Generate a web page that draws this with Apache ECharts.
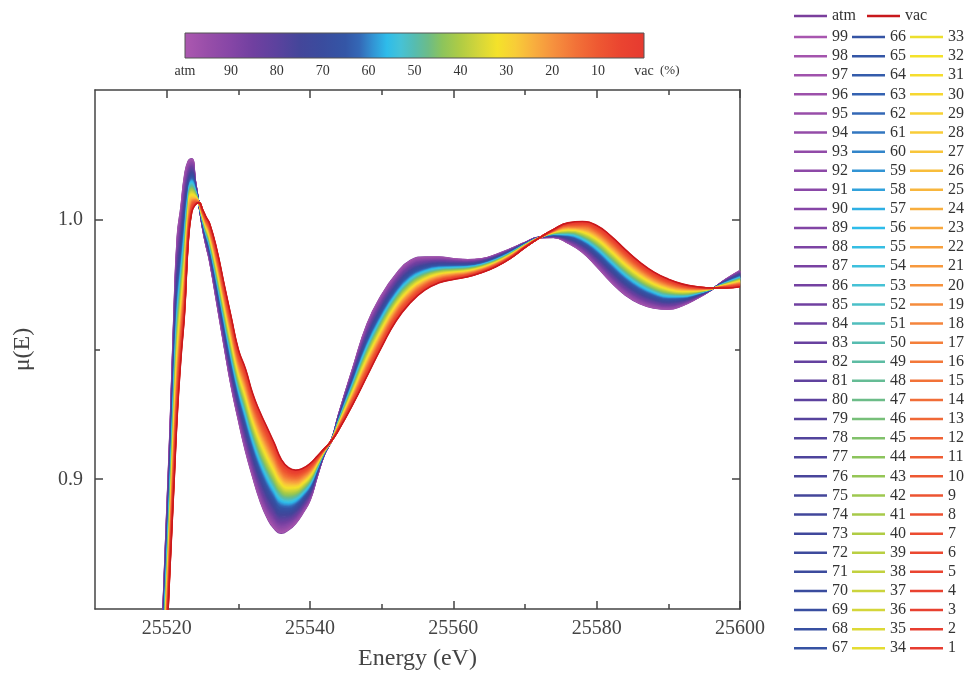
<!DOCTYPE html>
<html>
<head>
<meta charset="utf-8">
<script src="https://cdn.jsdelivr.net/npm/echarts@6/dist/echarts.min.js"></script>
<style>
  html, body { margin: 0; padding: 0; background: #fff; }
  #main { width: 967px; height: 677px; }
</style>
</head>
<body>
<div id="main"></div>
<script>
  // energy grid (eV) and the two end spectra
  var energy = [25518, 25519, 25520, 25520.5, 25521, 25521.5, 25522, 25522.5, 25523, 25523.5,
    25524, 25524.5, 25525, 25525.5, 25526, 25527, 25528, 25529, 25530, 25531,
    25532, 25533, 25534, 25535, 25536, 25537, 25538, 25539, 25540, 25541,
    25542, 25543, 25544, 25546, 25548, 25550, 25552, 25554, 25556, 25558,
    25560, 25562, 25564, 25566, 25568, 25570, 25572, 25574, 25576, 25578,
    25580, 25582, 25584, 25586, 25588, 25590, 25592, 25594, 25596, 25598, 25600]

  var muAtm = [0.745, 0.815, 0.886, 0.921, 0.962, 0.994, 1.005, 1.017, 1.0225, 1.0235,
    1.015, 1.006, 0.997, 0.990, 0.984, 0.968, 0.9517, 0.936, 0.923, 0.911,
    0.901, 0.892, 0.8853, 0.881, 0.8792, 0.8805, 0.883, 0.887, 0.8919, 0.901,
    0.9095, 0.915, 0.925, 0.943, 0.960, 0.971, 0.979, 0.9843, 0.9856, 0.9856,
    0.985, 0.9846, 0.985, 0.9866, 0.9888, 0.9912, 0.9932, 0.9932, 0.991, 0.9875,
    0.982, 0.976, 0.971, 0.9677, 0.966, 0.9655, 0.967, 0.9697, 0.973, 0.977, 0.9804]

  var muVac = [0.743, 0.792, 0.839, 0.868, 0.897, 0.926, 0.947, 0.9642, 0.991, 1.003,
    1.0058, 1.0066, 1.004, 1.001, 0.9985, 0.9884, 0.9753, 0.9625, 0.950, 0.9425,
    0.933, 0.926, 0.920, 0.914, 0.9076, 0.9045, 0.9035, 0.9042, 0.906, 0.9088,
    0.9118, 0.9148, 0.919, 0.929, 0.940, 0.951, 0.961, 0.968, 0.9729, 0.9757,
    0.977, 0.978, 0.9797, 0.982, 0.9852, 0.9893, 0.993, 0.9963, 0.9988, 0.9993,
    0.9978, 0.9937, 0.9885, 0.9837, 0.9798, 0.9771, 0.9752, 0.9742, 0.9737, 0.9737, 0.9742]

  // atm share (%) of each intermediate spectrum, as in the legend
  var levels = []
  for (var k = 99; k >= 1; k--) levels.push(k)

  var xMajor = [25520, 25540, 25560, 25580, 25600]
  var xMinor = [25530, 25550, 25570, 25590]
  var yMajor = [0.9, 1.0]
  var yMinor = [0.95]
  var barTicks = { 100: 'atm', 0: 'vac' }

  // colour map of the colour bar, % atm -> colour
  var colorStops = [
    [100, '#ac58b0'], [95, '#984ea9'], [90, '#8646a6'], [85, '#7040a0'], [80, '#5c429e'],
    [75, '#44469a'], [70, '#3a4c9e'], [65, '#3456a6'], [62, '#3468b6'], [59, '#3294d4'],
    [56, '#2ebcea'], [53, '#46c2d6'], [50, '#56bcb0'], [47, '#6cbc88'], [44, '#8cc45c'],
    [40, '#b0cc44'], [36, '#d4d63a'], [32, '#f4e22a'], [28, '#f8cc38'], [24, '#f8ae3e'],
    [20, '#f6923e'], [15, '#f27238'], [10, '#ee5832'], [5, '#ea4430'], [0, '#e63a30']
  ]
  var atmColor = '#7a3e9c'
  var vacColor = '#c8181c'

  var serif = "'Liberation Serif', 'Times New Roman', serif"

  function rgb(c) {
    return [parseInt(c.substr(1, 2), 16), parseInt(c.substr(3, 2), 16), parseInt(c.substr(5, 2), 16)]
  }
  function cmap(p) {
    for (var i = 0; i < colorStops.length - 1; i++) {
      var a = colorStops[i], b = colorStops[i + 1]
      if (p <= a[0] && p >= b[0]) {
        var t = (a[0] - p) / (a[0] - b[0])
        var ca = rgb(a[1]), cb = rgb(b[1])
        var c = ca.map(function (v, j) { return Math.round(v + (cb[j] - v) * t) })
        return 'rgb(' + c.join(',') + ')'
      }
    }
    return colorStops[colorStops.length - 1][1]
  }

  function makeSeries(name, pct, color) {
    var data = energy.map(function (e, i) {
      return [e, muVac[i] + (muAtm[i] - muVac[i]) * pct / 100]
    })
    return {
      name: name,
      type: 'line',
      data: data,
      color: color,
      showSymbol: false,
      symbol: 'none',
      smooth: 0.5,
      silent: true,
      clip: true,
      lineStyle: { width: 1.6, color: color },
      xAxisIndex: 0,
      yAxisIndex: 0
    }
  }

  var series = [makeSeries('atm', 100, atmColor)]
  levels.forEach(function (p) { series.push(makeSeries(String(p), p, cmap(p))) })
  series.push(makeSeries('vac', 0, vacColor))

  var col1 = [], col2 = [], col3 = []
  levels.forEach(function (p) {
    if (p >= 67) col1.push(String(p))
    else if (p >= 34) col2.push(String(p))
    else col3.push(String(p))
  })

  var legendText = { fontSize: 16, fontFamily: serif, color: '#333', lineHeight: 19.1 }
  function legendCol(data, left, top, orient) {
    return {
      data: data, orient: orient, left: left, top: top,
      icon: 'rect', itemWidth: 33, itemHeight: 2.5, itemGap: orient === 'vertical' ? 0 : 11,
      padding: 0, selectedMode: false, textStyle: legendText
    }
  }

  var axisColor = '#444'
  var tickLine = { color: axisColor, width: 1.5 }
  function plain(v) { return String(v) }

  var chart = echarts.init(document.getElementById('main'))
  chart.setOption({
    animation: false,
    backgroundColor: '#fff',
    grid: [
      { left: 95, top: 90, width: 645, height: 519 },
      { left: 185, top: 33, width: 459, height: 25 }
    ],
    xAxis: [
      {
        gridIndex: 0, type: 'value', min: 25510, max: 25600, position: 'bottom',
        axisLine: { onZero: false, lineStyle: tickLine },
        axisTick: { inside: true, length: 8, customValues: xMajor, lineStyle: tickLine },
        axisLabel: { customValues: xMajor, color: axisColor, fontSize: 20, fontFamily: serif, margin: 10, formatter: plain },
        splitLine: { show: false },
        name: 'Energy (eV)', nameLocation: 'middle', nameGap: 38,
        nameTextStyle: { fontSize: 24, color: axisColor, fontFamily: serif }
      },
      {
        gridIndex: 0, type: 'value', min: 25510, max: 25600, position: 'bottom',
        axisLine: { show: false },
        axisTick: { inside: true, length: 5, customValues: xMinor, lineStyle: tickLine },
        axisLabel: { show: false }, splitLine: { show: false }
      },
      {
        gridIndex: 0, type: 'value', min: 25510, max: 25600, position: 'top',
        axisLine: { onZero: false, lineStyle: tickLine },
        axisTick: { inside: true, length: 8, customValues: xMajor, lineStyle: tickLine },
        axisLabel: { show: false }, splitLine: { show: false }
      },
      {
        gridIndex: 0, type: 'value', min: 25510, max: 25600, position: 'top',
        axisLine: { show: false },
        axisTick: { inside: true, length: 5, customValues: xMinor, lineStyle: tickLine },
        axisLabel: { show: false }, splitLine: { show: false }
      },
      {
        gridIndex: 1, type: 'value', min: 0, max: 100, inverse: true, interval: 10, position: 'bottom',
        axisLine: { show: false }, axisTick: { show: false }, splitLine: { show: false },
        axisLabel: {
          color: '#333', fontSize: 14, fontFamily: serif, margin: 6,
          formatter: function (v) { return barTicks[v] !== undefined ? barTicks[v] : String(v) }
        },
        name: '(%)', nameLocation: 'start', nameGap: 16,
        nameTextStyle: { color: '#333', fontSize: 13, fontFamily: serif, verticalAlign: 'top', padding: [6, 0, 0, 0] }
      }
    ],
    yAxis: [
      {
        gridIndex: 0, type: 'value', min: 0.85, max: 1.05, position: 'left',
        axisLine: { onZero: false, lineStyle: tickLine },
        axisTick: { inside: true, length: 8, customValues: yMajor, lineStyle: tickLine },
        axisLabel: {
          customValues: yMajor, color: axisColor, fontSize: 20, fontFamily: serif, margin: 12,
          formatter: function (v) { return v.toFixed(1) }
        },
        splitLine: { show: false },
        name: 'μ(E)', nameLocation: 'middle', nameGap: 60, nameRotate: 90,
        nameTextStyle: { fontSize: 24, color: axisColor, fontFamily: serif }
      },
      {
        gridIndex: 0, type: 'value', min: 0.85, max: 1.05, position: 'left',
        axisLine: { show: false },
        axisTick: { inside: true, length: 5, customValues: yMinor, lineStyle: tickLine },
        axisLabel: { show: false }, splitLine: { show: false }
      },
      {
        gridIndex: 0, type: 'value', min: 0.85, max: 1.05, position: 'right',
        axisLine: { onZero: false, lineStyle: tickLine },
        axisTick: { inside: true, length: 8, customValues: yMajor, lineStyle: tickLine },
        axisLabel: { show: false }, splitLine: { show: false }
      },
      {
        gridIndex: 0, type: 'value', min: 0.85, max: 1.05, position: 'right',
        axisLine: { show: false },
        axisTick: { inside: true, length: 5, customValues: yMinor, lineStyle: tickLine },
        axisLabel: { show: false }, splitLine: { show: false }
      },
      { gridIndex: 1, type: 'value', min: 0, max: 1, show: false }
    ],
    legend: [
      legendCol(['atm', 'vac'], 794, 6.5, 'horizontal'),
      legendCol(col1, 794, 27.5, 'vertical'),
      legendCol(col2, 852, 27.5, 'vertical'),
      legendCol(col3, 910, 27.5, 'vertical')
    ],
    graphic: [{
      type: 'rect',
      shape: { x: 185, y: 33, width: 459, height: 25 },
      style: {
        fill: new echarts.graphic.LinearGradient(0, 0, 1, 0, colorStops.map(function (s) {
          return { offset: (100 - s[0]) / 100, color: s[1] }
        })),
        stroke: '#555', lineWidth: 1
      },
      silent: true
    }],
    series: series
  })
</script>
</body>
</html>
